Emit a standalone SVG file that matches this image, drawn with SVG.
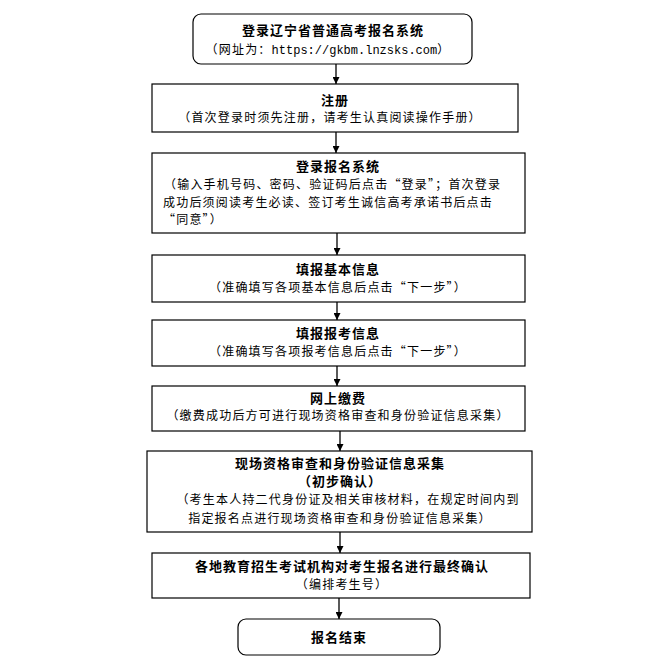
<svg xmlns="http://www.w3.org/2000/svg" width="662" height="663" viewBox="0 0 662 663">
<defs>
<marker id="ah" viewBox="0 0 10 10" refX="10" refY="5" markerWidth="7" markerHeight="7" markerUnits="userSpaceOnUse" orient="auto"><path d="M0,0L10,5L0,10z" fill="#000"/></marker>
</defs>
<style>
rect{fill:#fff;stroke:#000;stroke-width:1.2}
text{font-family:"Noto Sans CJK SC","Liberation Serif",serif;font-size:12px;fill:#000;letter-spacing:1.2px}
.t{font-weight:bold;font-size:13px;letter-spacing:1px}
.c{text-anchor:middle}
.m{font-family:"Liberation Mono","Noto Sans CJK SC",monospace;letter-spacing:0}
line{stroke:#000;stroke-width:1.3;marker-end:url(#ah)}
</style>
<rect width="662" height="663" style="fill:#fff;stroke:none"/>
<g id="connectors">
<line x1="336" y1="64" x2="336" y2="84"/>
<line x1="336" y1="132" x2="336" y2="153"/>
<line x1="337" y1="233" x2="337" y2="255"/>
<line x1="337" y1="302" x2="337" y2="320"/>
<line x1="337" y1="366" x2="337" y2="386"/>
<line x1="340" y1="431" x2="340" y2="451"/>
<line x1="340" y1="532" x2="340" y2="553"/>
<line x1="339" y1="598" x2="339" y2="619"/>
</g>
<g id="n1"><rect x="193" y="14" width="279" height="50" rx="8"/>
<text class="t c" x="333" y="35">登录辽宁省普通高考报名系统</text>
<text class="c" x="328" y="54">（网址为：<tspan class="m">https://gkbm.lnzsks.com</tspan>）</text></g>
<g id="n2"><rect x="152" y="84" width="366" height="48"/>
<text class="t c" x="335" y="105">注册</text>
<text class="c" x="330" y="122">（首次登录时须先注册，请考生认真阅读操作手册）</text></g>
<g id="n3"><rect x="152" y="153" width="373" height="80"/>
<text class="t c" x="338" y="171">登录报名系统</text>
<text x="164" y="189">（输入手机号码、密码、验证码后点击“登录”；首次登录</text>
<text x="163" y="207">成功后须阅读考生必读、签订考生诚信高考承诺书后点击</text>
<text x="163" y="224">“同意”）</text></g>
<g id="n4"><rect x="152" y="255" width="373" height="47"/>
<text class="t c" x="338" y="274">填报基本信息</text>
<text class="c" x="338" y="292">（准确填写各项基本信息后点击“下一步”）</text></g>
<g id="n5"><rect x="152" y="320" width="373" height="46"/>
<text class="t c" x="338" y="338">填报报考信息</text>
<text class="c" x="338" y="356">（准确填写各项报考信息后点击“下一步”）</text></g>
<g id="n6"><rect x="152" y="386" width="373" height="45"/>
<text class="t c" x="338" y="403">网上缴费</text>
<text class="c" x="338" y="420">（缴费成功后方可进行现场资格审查和身份验证信息采集）</text></g>
<g id="n7"><rect x="147" y="451" width="385" height="81"/>
<text class="t c" x="340" y="468">现场资格审查和身份验证信息采集</text>
<text class="t c" x="340" y="486">（初步确认）</text>
<text class="c" x="348" y="504">（考生本人持二代身份证及相关审核材料，在规定时间内到</text>
<text class="c" x="340" y="523">指定报名点进行现场资格审查和身份验证信息采集）</text></g>
<g id="n8"><rect x="152" y="553" width="378" height="45"/>
<text class="t c" x="342" y="571">各地教育招生考试机构对考生报名进行最终确认</text>
<text class="c" x="342" y="589">（编排考生号）</text></g>
<g id="n9"><rect x="238" y="619" width="202" height="36" rx="8"/>
<text class="t c" x="339" y="642">报名结束</text></g>
</svg>
